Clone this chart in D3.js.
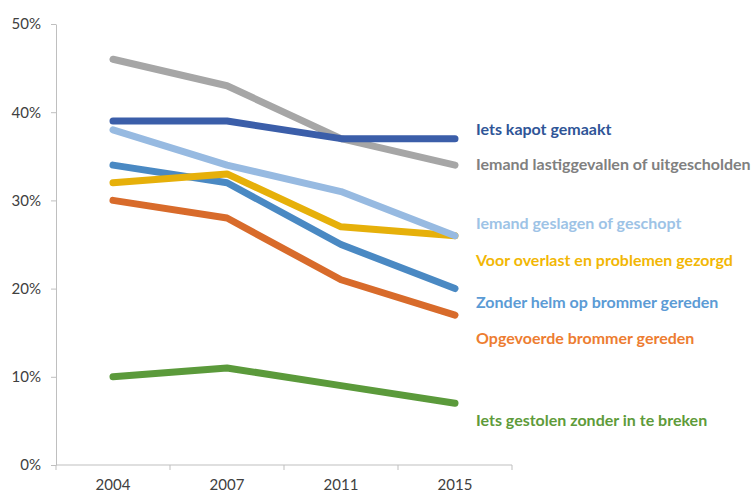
<!DOCTYPE html>
<html>
<head>
<meta charset="utf-8">
<script src="https://cdn.jsdelivr.net/npm/d3@7"></script>
<style>
  body { margin: 0; background: #fff; }
  text { font-family: Lato, "Open Sans", sans-serif; }
</style>
</head>
<body>
<div id="chart"></div>
<script>
// data
var years = ["2004", "2007", "2011", "2015"];
var tickValues = [0, 10, 20, 30, 40, 50];

var seriesNames = [
  "Iets kapot gemaakt",
  "Iemand lastiggevallen of uitgescholden",
  "Iemand geslagen of geschopt",
  "Voor overlast en problemen gezorgd",
  "Zonder helm op brommer gereden",
  "Opgevoerde brommer gereden",
  "Iets gestolen zonder in te breken"
];
var kapot = [39, 39, 37, 37];
var lastig = [46, 43, 37, 34];
var geslagen = [38, 34, 31, 26];
var overlast = [32, 33, 27, 26];
var helm = [34, 32, 25, 20];
var opgevoerd = [30, 28, 21, 17];
var gestolen = [10, 11, 9, 7];
var seriesValues = [kapot, lastig, geslagen, overlast, helm, opgevoerd, gestolen];

// where the end labels sit, in % units
var labelAt = [38.1, 34.1, 27.4, 23.2, 18.4, 14.4, 5.1];

var lineColors = ["#3b5ea9", "#a6a6a6", "#97bae1", "#e6b00a", "#4a89c3", "#d86b2b", "#5b9a3b"];
var textColors = ["#2f5597", "#808080", "#9dc3e6", "#f2b705", "#5b9bd5", "#ed7d31", "#5e9b3a"];

var width = 751, height = 491;
var margin = {left: 56, top: 24, bottom: 26};

var svg = d3.select("#chart").append("svg")
  .attr("width", width)
  .attr("height", height);

var x = d3.scaleBand()
  .domain(years)
  .range([56, 512]);

var y = d3.scaleLinear()
  .domain([0, 50])
  .range([465, 24]);

// y axis
var yAxis = svg.append("g")
  .attr("transform", "translate(" + margin.left + ",0)")
  .call(d3.axisLeft(y).tickValues(tickValues).tickSize(5).tickSizeOuter(0).tickPadding(10)
    .tickFormat(function(d) { return d + "%"; }));
yAxis.select(".domain").attr("stroke", "#bfbfbf");
yAxis.selectAll(".tick line").attr("stroke", "#bfbfbf");
yAxis.selectAll(".tick text")
  .attr("fill", "#404040")
  .style("font-size", "15px")
  .style("font-family", "Lato, sans-serif");

// little bit of the axis below zero
svg.append("line")
  .attr("x1", margin.left).attr("x2", margin.left)
  .attr("y1", y(0)).attr("y2", y(0) + 5)
  .attr("stroke", "#bfbfbf");

// x axis
svg.append("line")
  .attr("x1", x.range()[0]).attr("x2", x.range()[1])
  .attr("y1", y(0)).attr("y2", y(0))
  .attr("stroke", "#bfbfbf");

svg.selectAll(".xtick")
  .data(d3.range(1, years.length + 1))
  .enter()
  .append("line")
    .attr("x1", function(i) { return x.range()[0] + i * x.step(); })
    .attr("x2", function(i) { return x.range()[0] + i * x.step(); })
    .attr("y1", y(0))
    .attr("y2", y(0) + 5)
    .attr("stroke", "#bfbfbf");

svg.selectAll(".xlabel")
  .data(years)
  .enter()
  .append("text")
    .attr("x", function(d) { return x(d) + x.bandwidth() / 2; })
    .attr("y", 490)
    .attr("text-anchor", "middle")
    .attr("fill", "#404040")
    .style("font-size", "15px")
    .text(function(d) { return d; });

// lines
var line = d3.line()
  .x(function(d, i) { return x(years[i]) + x.bandwidth() / 2; })
  .y(function(d) { return y(d); });

// draw in an order so the overlaps look like the picture
var drawOrder = [6, 5, 4, 3, 2, 1, 0];
svg.selectAll(".series")
  .data(drawOrder)
  .enter()
  .append("path")
    .attr("d", function(i) { return line(seriesValues[i]); })
    .attr("fill", "none")
    .attr("stroke", function(i) { return lineColors[i]; })
    .attr("stroke-width", 7)
    .attr("stroke-linecap", "round")
    .attr("stroke-linejoin", "round");

// end labels
svg.selectAll(".label")
  .data(seriesNames)
  .enter()
  .append("text")
    .attr("x", 476)
    .attr("y", function(d, i) { return y(labelAt[i]); })
    .attr("dy", "0.35em")
    .attr("fill", function(d, i) { return textColors[i]; })
    .style("font-size", "16px")
    .style("font-weight", "bold")
    .text(function(d) { return d; });
</script>
</body>
</html>
